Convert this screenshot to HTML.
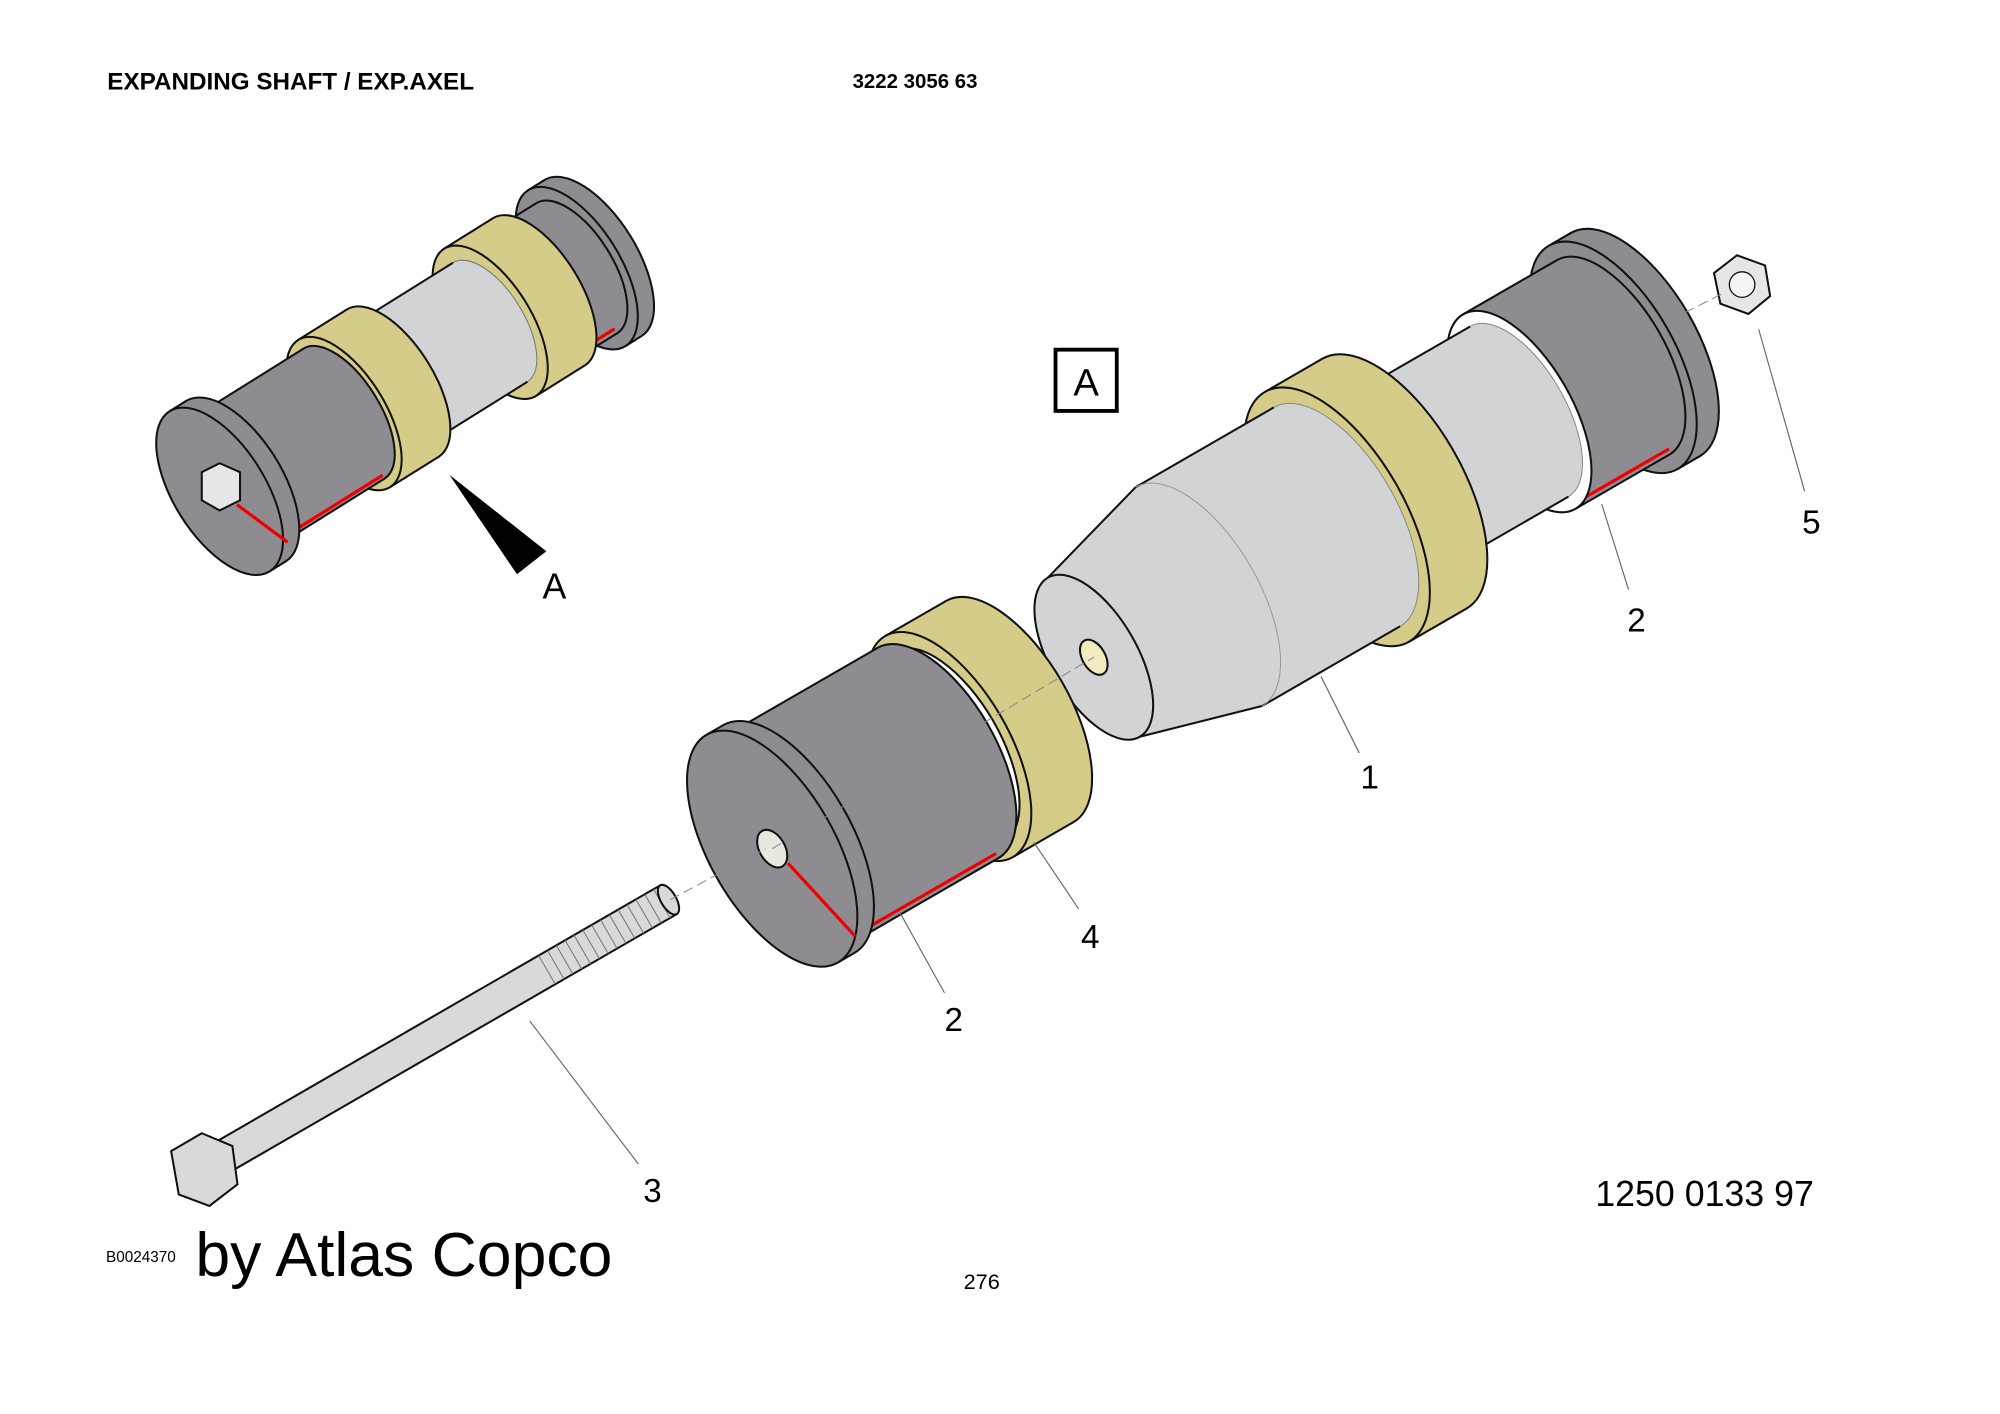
<!DOCTYPE html>
<html><head><meta charset="utf-8"><style>html,body{margin:0;padding:0;background:#fff}svg{display:block}</style></head>
<body>
<svg width="2000" height="1414" viewBox="0 0 1567 1108" xmlns="http://www.w3.org/2000/svg" font-family="Liberation Sans, sans-serif">
<rect width="1567" height="1108" fill="#fff"/>
<g stroke="#111" stroke-width="1.6">
<!-- top-left assembly -->
<g transform="translate(172,385) rotate(-32)">
 <ellipse cx="345" cy="0" rx="34" ry="72" fill="#8e8c90"/><rect x="330" y="-72" width="15" height="144" fill="#8e8c90" stroke="none"/><line x1="330" y1="-72" x2="345" y2="-72"/><line x1="330" y1="72" x2="345" y2="72"/><ellipse cx="330" cy="0" rx="34" ry="72" fill="#8e8c90"/>
 <ellipse cx="330" cy="0" rx="28" ry="60" fill="#8e8c90"/><rect x="295" y="-60" width="35" height="120" fill="#8e8c90" stroke="none"/><line x1="295" y1="-60" x2="330" y2="-60"/><line x1="295" y1="60" x2="330" y2="60"/>
 <line x1="300" y1="56" x2="330" y2="56" stroke="#e00" stroke-width="2.5"/>
 <ellipse cx="295" cy="0" rx="32" ry="68" fill="#d6cc8a"/><rect x="250" y="-68" width="45" height="136" fill="#d6cc8a" stroke="none"/><line x1="250" y1="-68" x2="295" y2="-68"/><line x1="250" y1="68" x2="295" y2="68"/><ellipse cx="250" cy="0" rx="32" ry="68" fill="#d6cc8a"/>
 <ellipse cx="250" cy="0" rx="26" ry="55" fill="#d2d3d5" stroke="#777" stroke-width="0.8"/><rect x="160" y="-55" width="90" height="110" fill="#d2d3d5" stroke="none"/><line x1="160" y1="-55" x2="250" y2="-55"/><line x1="160" y1="55" x2="250" y2="55"/>
 <ellipse cx="160" cy="0" rx="32" ry="68" fill="#d6cc8a"/><rect x="115" y="-68" width="45" height="136" fill="#d6cc8a" stroke="none"/><line x1="115" y1="-68" x2="160" y2="-68"/><line x1="115" y1="68" x2="160" y2="68"/><ellipse cx="115" cy="0" rx="32" ry="68" fill="#d6cc8a"/>
 <ellipse cx="115" cy="0" rx="28" ry="60" fill="#8e8c90"/><rect x="15" y="-60" width="100" height="120" fill="#8e8c90" stroke="none"/><line x1="15" y1="-60" x2="115" y2="-60"/><line x1="15" y1="60" x2="115" y2="60"/>
 <line x1="20" y1="57" x2="115" y2="57" stroke="#e00" stroke-width="2.5"/>
 <ellipse cx="15" cy="0" rx="36" ry="74" fill="#8e8c90"/><rect x="0" y="-74" width="15" height="148" fill="#8e8c90" stroke="none"/><line x1="0" y1="-74" x2="15" y2="-74"/><line x1="0" y1="74" x2="15" y2="74"/><ellipse cx="0" cy="0" rx="36" ry="74" fill="#8e8c90"/>
 <line x1="6" y1="16" x2="24" y2="62" stroke="#e00" stroke-width="2.5"/>
</g>
<polygon points="158,370 172,363 188,370 188,392 172,400 158,392" fill="#e6e6e6"/>
<polygon points="352,372 428,432 405,450" fill="#000" stroke="none"/>

<!-- main assembly -->
<g transform="translate(857,515) rotate(-30)">
 <ellipse cx="490" cy="0" rx="48" ry="101" fill="#8e8c90"/><rect x="470" y="-101" width="20" height="202" fill="#8e8c90" stroke="none"/><line x1="470" y1="-101" x2="490" y2="-101"/><line x1="470" y1="101" x2="490" y2="101"/><ellipse cx="470" cy="0" rx="48" ry="101" fill="#8e8c90"/>
 <ellipse cx="470" cy="0" rx="41" ry="88" fill="#8e8c90"/><rect x="385" y="-88" width="85" height="176" fill="#8e8c90" stroke="none"/><line x1="385" y1="-88" x2="470" y2="-88"/><line x1="385" y1="88" x2="470" y2="88"/>
 <line x1="385" y1="84" x2="472" y2="84" stroke="#e00" stroke-width="2.5"/>
 <ellipse cx="385" cy="0" rx="41" ry="88" fill="#fff"/>
 <ellipse cx="385" cy="0" rx="36" ry="77" fill="#d2d3d5" stroke="#888" stroke-width="0.8"/><rect x="270" y="-77" width="115" height="154" fill="#d2d3d5" stroke="none"/><line x1="270" y1="-77" x2="385" y2="-77"/><line x1="270" y1="77" x2="385" y2="77"/>
 <ellipse cx="272" cy="0" rx="53" ry="113" fill="#d6cc8a"/><rect x="220" y="-113" width="52" height="226" fill="#d6cc8a" stroke="none"/><line x1="220" y1="-113" x2="272" y2="-113"/><line x1="220" y1="113" x2="272" y2="113"/><ellipse cx="220" cy="0" rx="53" ry="113" fill="#d6cc8a"/>
 <ellipse cx="220" cy="0" rx="47" ry="99" fill="#d2d3d5" stroke="#888" stroke-width="0.8"/><rect x="95" y="-99" width="125" height="198" fill="#d2d3d5" stroke="none"/><line x1="95" y1="-99" x2="220" y2="-99"/><line x1="95" y1="99" x2="220" y2="99"/>
 <path d="M 95 -99 A 47 99 0 0 1 95 99" fill="none" stroke="#999" stroke-width="0.8"/>
 <polygon points="0,-72 95,-99 95,99 0,72" fill="#d2d3d5" stroke="none"/><line x1="0" y1="-72" x2="95" y2="-99"/><line x1="0" y1="72" x2="95" y2="99"/>
 <ellipse cx="0" cy="0" rx="34" ry="72" fill="#d2d3d5"/>
 <ellipse cx="0" cy="0" rx="9" ry="15" fill="#f0ecc0"/>
</g>
<polygon points="1343,214 1361,200 1383,208 1387,232 1370,246 1348,238" fill="#e6e6e6"/>
<circle cx="1365" cy="223" r="10" fill="#f4f4f4" stroke-width="1"/>

<!-- front assembly -->
<g transform="translate(605,665) rotate(-30)">
 <ellipse cx="215" cy="0" rx="47" ry="100" fill="#d6cc8a"/><rect x="160" y="-100" width="55" height="200" fill="#d6cc8a" stroke="none"/><line x1="160" y1="-100" x2="215" y2="-100"/><line x1="160" y1="100" x2="215" y2="100"/><ellipse cx="160" cy="0" rx="47" ry="100" fill="#d6cc8a"/>
 <ellipse cx="160" cy="0" rx="40" ry="86" fill="#fff"/>
 <ellipse cx="150" cy="0" rx="45" ry="95" fill="#8e8c90"/><rect x="15" y="-95" width="135" height="190" fill="#8e8c90" stroke="none"/><line x1="15" y1="-95" x2="150" y2="-95"/><line x1="15" y1="95" x2="150" y2="95"/>
 <line x1="18" y1="91" x2="150" y2="91" stroke="#e00" stroke-width="2.5"/>
 <ellipse cx="15" cy="0" rx="49" ry="103" fill="#8e8c90"/><rect x="0" y="-103" width="15" height="206" fill="#8e8c90" stroke="none"/><line x1="0" y1="-103" x2="15" y2="-103"/><line x1="0" y1="103" x2="15" y2="103"/><ellipse cx="0" cy="0" rx="49" ry="103" fill="#8e8c90"/>
 <line x1="5" y1="16" x2="22" y2="92" stroke="#e00" stroke-width="2.5"/>
 <ellipse cx="0" cy="0" rx="10" ry="16" fill="#e8e8e0"/>
</g>

<!-- bolt -->
<g transform="translate(160,915) rotate(-30)">
 <rect x="20" y="-13" width="400" height="26" fill="#d8d9db"/>
 <g stroke="#777" stroke-width="0.8">
  <line x1="310" y1="-13" x2="310" y2="13"/><line x1="318" y1="-13" x2="318" y2="13"/><line x1="326" y1="-13" x2="326" y2="13"/><line x1="334" y1="-13" x2="334" y2="13"/><line x1="342" y1="-13" x2="342" y2="13"/><line x1="350" y1="-13" x2="350" y2="13"/><line x1="358" y1="-13" x2="358" y2="13"/><line x1="366" y1="-13" x2="366" y2="13"/><line x1="374" y1="-13" x2="374" y2="13"/><line x1="382" y1="-13" x2="382" y2="13"/><line x1="390" y1="-13" x2="390" y2="13"/><line x1="398" y1="-13" x2="398" y2="13"/><line x1="406" y1="-13" x2="406" y2="13"/><line x1="414" y1="-13" x2="414" y2="13"/>
 </g>
 <ellipse cx="420" cy="0" rx="6" ry="13" fill="#d8d9db"/>
</g>
<polygon points="134,902 158,888 182,898 186,928 164,945 140,936" fill="#d8d9db"/>
</g>

<g stroke="#888" stroke-width="0.8" stroke-dasharray="8,4" fill="none">
 <line x1="525" y1="705" x2="600" y2="665"/>
 <line x1="605" y1="665" x2="857" y2="515"/>
 <line x1="1320" y1="245" x2="1350" y2="230"/>
</g>
<g stroke="#666" stroke-width="0.9">
 <line x1="1035" y1="530" x2="1065" y2="590"/>
 <line x1="1255" y1="395" x2="1276" y2="462"/>
 <line x1="1378" y1="258" x2="1414" y2="385"/>
 <line x1="705" y1="715" x2="740" y2="778"/>
 <line x1="810" y1="660" x2="845" y2="712"/>
 <line x1="415" y1="800" x2="500" y2="912"/>
</g>
<rect x="827" y="274" width="48" height="48" fill="none" stroke="#000" stroke-width="3"/>
<g fill="#000">
<text x="851" y="310" font-size="30" text-anchor="middle">A</text>
<text x="425" y="469" font-size="28">A</text>
<text x="1066" y="618" font-size="26">1</text>
<text x="1275" y="495" font-size="26">2</text>
<text x="1412" y="418" font-size="26">5</text>
<text x="740" y="808" font-size="26">2</text>
<text x="847" y="743" font-size="26">4</text>
<text x="504" y="942" font-size="26">3</text>
<text x="84" y="70" font-size="19" font-weight="bold">EXPANDING SHAFT / EXP.AXEL</text>
<text x="668" y="69" font-size="16" font-weight="bold">3222 3056 63</text>
<text x="1250" y="945" font-size="28">1250 0133 97</text>
<text x="83" y="989" font-size="12">B0024370</text>
<text x="153" y="1000" font-size="49">by Atlas Copco</text>
<text x="755" y="1010" font-size="17">276</text>
</g>
</svg>
</body></html>
